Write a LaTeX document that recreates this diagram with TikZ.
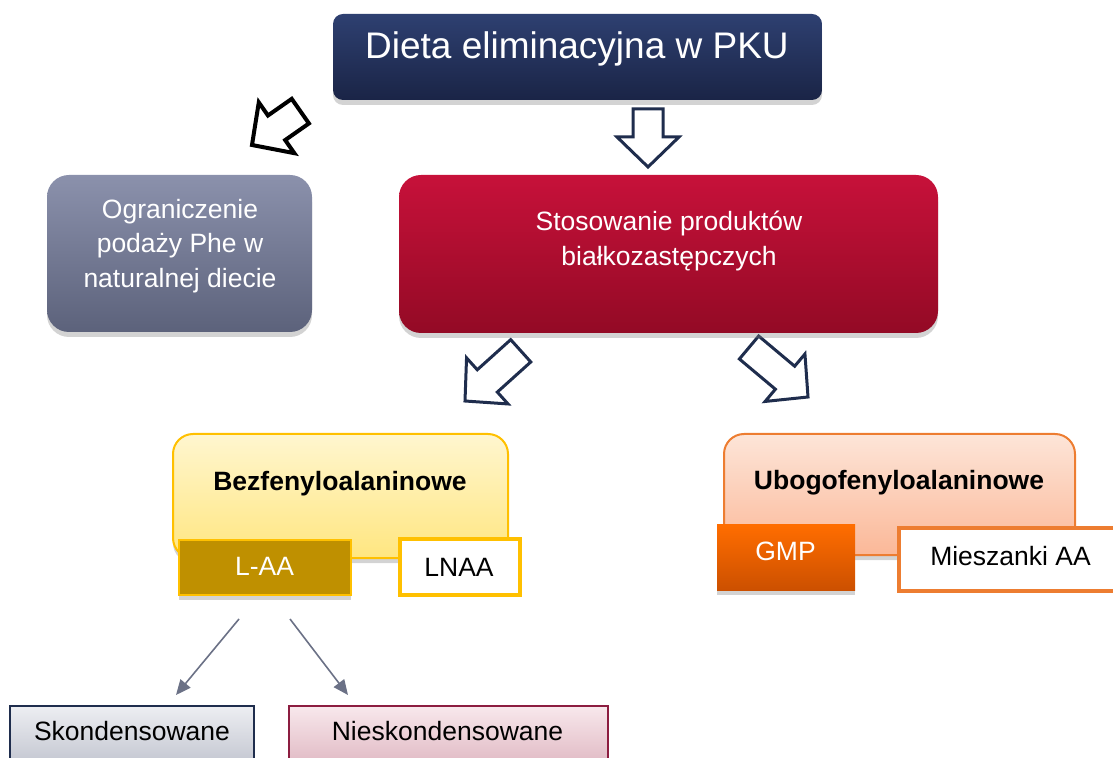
\documentclass[tikz,border=0pt]{standalone}
\usepackage{fontspec}
\setmainfont{Liberation Sans}
\usetikzlibrary{shadows,arrows.meta}
\definecolor{titletop}{HTML}{2E4071}
\definecolor{titlebot}{HTML}{1A2446}
\definecolor{ogrtop}{HTML}{8B91AC}
\definecolor{ogrbot}{HTML}{5C627B}
\definecolor{redtop}{HTML}{C7113A}
\definecolor{redbot}{HTML}{930A25}
\definecolor{yeltop}{HTML}{FFF6CF}
\definecolor{yelbot}{HTML}{FFE680}
\definecolor{yelborder}{HTML}{FFC000}
\definecolor{gold}{HTML}{BF9000}
\definecolor{oratop}{HTML}{FDE5D8}
\definecolor{orabot}{HTML}{FBB898}
\definecolor{oraborder}{HTML}{ED7D31}
\definecolor{gmptop}{HTML}{FF6D00}
\definecolor{gmpbot}{HTML}{CC5000}
\definecolor{navy}{HTML}{1F2D4D}
\definecolor{thinarrow}{HTML}{6B7186}
\definecolor{skontop}{HTML}{EDEEF2}
\definecolor{skonbot}{HTML}{C6C9D3}
\definecolor{niestop}{HTML}{F8E8EC}
\definecolor{niesbot}{HTML}{E2BDC7}
\definecolor{niesborder}{HTML}{8C1D40}
\newcommand{\myblockarrow}[5]{%
  \draw[#5, shift={(#1,#2)}, rotate=#3] (0,0) -- (-31,-30) -- (-15,-30) -- (-15,-#4) -- (15,-#4) -- (15,-30) -- (31,-30) -- cycle;}
\begin{document}
\begin{tikzpicture}[x=0.5pt,y=-0.5pt,
  shadowed/.style={drop shadow={opacity=0.35,shadow xshift=0pt,shadow yshift=-2.5pt}},
  boxbase/.style={inner sep=0pt, outer sep=0pt, shadowed},
  txt/.style={inner sep=0pt, font=\fontsize{13.25}{17.25}\selectfont, text height=0.75em, text depth=0.25em},
  mtxt/.style={inner sep=0pt, font=\fontsize{13.25}{17.25}\selectfont, align=center},
  navyarrow/.style={draw=navy, line width=1.5pt, line join=miter, fill=white},
  blackarrow/.style={draw=black, line width=2pt, line join=miter, fill=white},
  thin/.style={draw=thinarrow, line width=0.8pt, -{Triangle[length=7.5pt,width=6.5pt]}}
]
\useasboundingbox (0,0) rectangle (1113,758);
\clip (0,0) rectangle (1113,758);

% title
\node[boxbase, rounded corners=5pt, top color=titletop, bottom color=titlebot,
  minimum width=244.5pt, minimum height=43pt] (title) at (577.5,57) {};
\node[txt, text=white, font=\fontsize{18.5}{22}\selectfont] (titletext) at (577,53.5) {Dieta eliminacyjna w PKU};

% block arrows
\myblockarrow{648}{167}{0}{58}{navyarrow}
\myblockarrow{252}{145}{-55}{59}{blackarrow}
\myblockarrow{465}{401}{-48}{75}{navyarrow}
\myblockarrow{808}{397}{50}{77}{navyarrow}

% left gray box
\node[boxbase, rounded corners=11pt, top color=ogrtop, bottom color=ogrbot,
  minimum width=132.5pt, minimum height=78.5pt] (ogr) at (179.5,253.5) {};
\node[mtxt, text=white] (ogrtext) at (180,246) {Ograniczenie\\podaży Phe w\\naturalnej diecie};

% red box
\node[boxbase, rounded corners=11pt, top color=redtop, bottom color=redbot,
  minimum width=269.5pt, minimum height=79pt] (stos) at (668.5,254) {};
\node[mtxt, text=white] (stostext) at (669,241) {Stosowanie produktów\\białkozastępczych};

% yellow box
\node[boxbase, rounded corners=10pt, top color=yeltop, bottom color=yelbot, draw=yelborder, line width=1pt,
  minimum width=167.5pt, minimum height=62pt] (bez) at (340.5,496) {};
\node[txt, font=\fontsize{13.25}{17.25}\selectfont\bfseries] (beztext) at (340,485.5) {Bezfenyloalaninowe};
\node[boxbase, fill=gold, draw=yelborder, line width=1pt,
  minimum width=86pt, minimum height=27.5pt] (laa) at (265,567.5) {};
\node[txt, text=white] (laatext) at (264.5,570.5) {L-AA};
\node[inner sep=0pt, outer sep=0pt, fill=white, draw=yelborder, line width=2pt,
  minimum width=60pt, minimum height=27.5pt] (lnaa) at (459.5,567) {};
\node[txt] (lnaatext) at (459,571) {LNAA};

% orange box
\node[boxbase, rounded corners=10pt, top color=oratop, bottom color=orabot, draw=oraborder, line width=1pt,
  minimum width=175.5pt, minimum height=60.5pt] (ubo) at (899.5,494.5) {};
\node[txt, font=\fontsize{13.25}{17.25}\selectfont\bfseries] (ubotext) at (899,484.5) {Ubogofenyloalaninowe};
\node[boxbase, top color=gmptop, bottom color=gmpbot,
  minimum width=69pt, minimum height=32.5pt] (gmp) at (786,557.5) {};
\node[txt, text=white] (gmptext) at (785.5,555.5) {GMP};
\node[inner sep=0pt, outer sep=0pt, fill=white, draw=oraborder, line width=2pt,
  minimum width=110.5pt, minimum height=31.5pt] (mies) at (1009.5,559.5) {};
\node[txt] (miestext) at (1010.5,560.5) {Mieszanki AA};

% bottom boxes
\node[inner sep=0pt, outer sep=0pt, top color=skontop, bottom color=skonbot, draw=navy, line width=0.8pt,
  minimum width=122pt, minimum height=27pt] (skon) at (132,733) {};
\node[txt] (skontext) at (132,735.5) {Skondensowane};
\node[inner sep=0pt, outer sep=0pt, top color=niestop, bottom color=niesbot, draw=niesborder, line width=0.8pt,
  minimum width=159.5pt, minimum height=27pt] (nies) at (448.5,733) {};
\node[txt] (niestext) at (447.5,735.5) {Nieskondensowane};

% thin arrows
\coordinate (a1s) at (239,619);
\coordinate (a1e) at (176,695);
\coordinate (a2s) at (290,619);
\coordinate (a2e) at (348,695);
\draw[thin] (a1s) -- (a1e);
\draw[thin] (a2s) -- (a2e);
\end{tikzpicture}
\end{document}
